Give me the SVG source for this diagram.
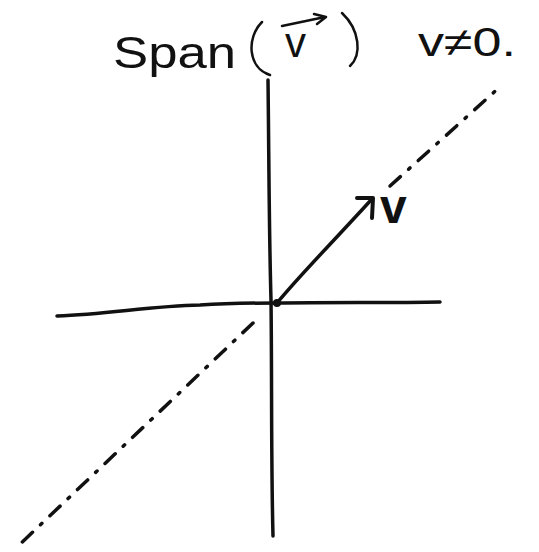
<svg xmlns="http://www.w3.org/2000/svg" width="539" height="552" viewBox="0 0 539 552">
<style>
.ink{fill:none;stroke:#111;stroke-linecap:round;stroke-linejoin:round}
.axis{stroke-width:3.5}
.span{stroke-width:3.5;stroke-dasharray:14 11 2 11}
.hand{font-family:"Liberation Sans","DejaVu Sans",sans-serif;fill:#111}
</style>
<rect width="539" height="552" fill="#fff"/>
<g id="title">
<text class="hand" x="113" y="68" font-size="44" textLength="123" lengthAdjust="spacingAndGlyphs">Span</text>
<path class="ink" d="M262,22 C246,38 248,68 270,75" stroke-width="2.5"/>
<text class="hand" x="285" y="57" font-size="42">v</text>
<path class="ink" d="M282,26 L325,17 M314,14 L326,17 L317,24" stroke-width="2.5"/>
<path class="ink" d="M342,13 C360,30 362,55 350,66" stroke-width="2.5"/>
<text class="hand" x="418" y="56" font-size="40" textLength="98" lengthAdjust="spacingAndGlyphs">v≠0.</text>
</g>
<g id="axes">
<path class="ink axis" d="M268,80 C269,160 269,230 271,300 C272,380 271,460 273,536"/>
<path class="ink axis" d="M57,316 C110,314 150,306 200,305 C230,303 255,303 277,303 C330,302 390,303 440,302"/>
</g>
<g id="span-line">
<path class="ink span" d="M253,323 L17,547"/>
<path class="ink span" d="M390,186 L502,85"/>
</g>
<g id="vector">
<path class="ink" d="M277,303 C300,275 330,245 371,200" stroke-width="3.5"/>
<path class="ink" d="M357,198 L373,198 L372,218" stroke-width="4"/>
<circle cx="277" cy="303" r="4" fill="#111"/>
<text class="hand" x="380" y="223" font-size="48" font-weight="bold">v</text>
</g>
</svg>
